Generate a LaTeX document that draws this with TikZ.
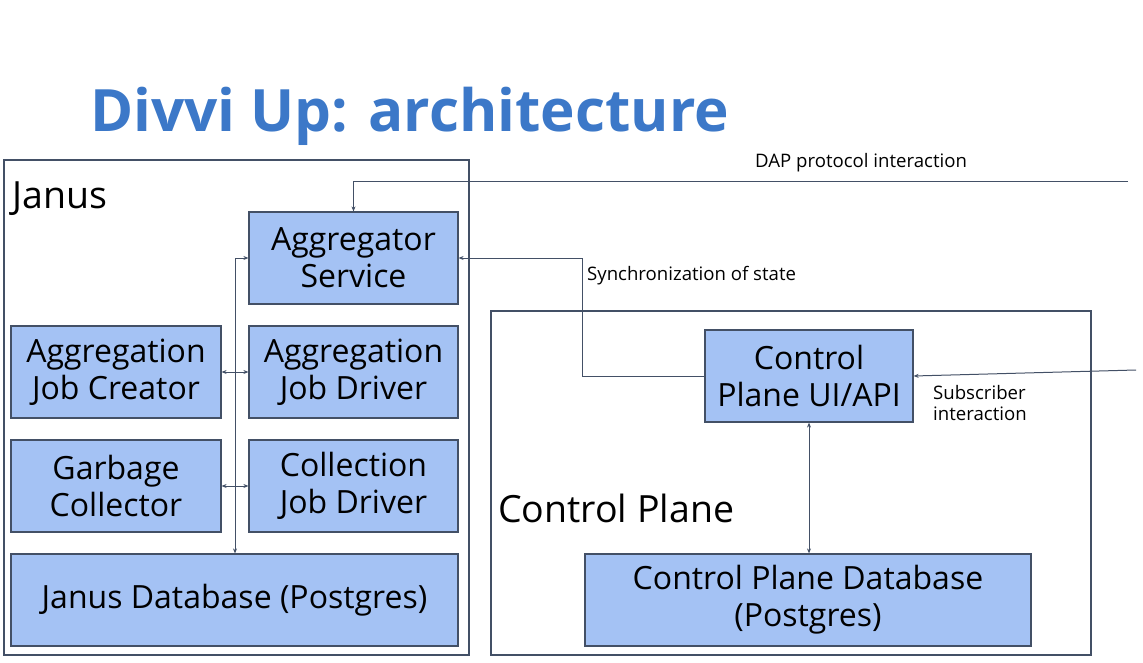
\documentclass[tikz,border=0pt]{standalone}
\usepackage{fontspec}
\setmainfont{Open Sans}
\usetikzlibrary{arrows.meta}

\definecolor{boxfill}{RGB}{164,194,244}
\definecolor{edge}{RGB}{67,80,102}
\definecolor{titleblue}{RGB}{60,120,200}

\begin{document}
\begin{tikzpicture}[x=1pt,y=-1pt,
	comp/.style={draw=edge,line width=1.2pt,fill=boxfill,align=center,inner sep=0pt,
		minimum height=92pt,font=\fontsize{32}{37}\selectfont},
	group/.style={draw=edge,line width=1.2pt,inner sep=0pt},
	lbl/.style={anchor=base west,inner sep=0pt,font=\fontsize{18.6}{21}\selectfont},
	conn/.style={draw=edge,line width=1pt,-{Stealth[length=5pt,width=4pt]}},
	bothconn/.style={draw=edge,line width=1pt,{Stealth[length=5pt,width=4pt]}-{Stealth[length=5pt,width=4pt]}}]
	\useasboundingbox (0,0) rectangle (1143,663);

	% Title
	\node[anchor=base west,inner sep=0pt,text=titleblue,font=\fontsize{58.4}{66}\selectfont\bfseries] (title) at (90,132) {Divvi Up: architecture};

	% Groups
	\node[group,minimum width=465pt,minimum height=495pt] (janus) at (236.5,407.5) {};
	\node[group,minimum width=600pt,minimum height=344pt] (cp) at (791,483) {};
	\node[anchor=base west,inner sep=0pt,font=\fontsize{37.5}{40}\selectfont] (januslbl) at (12,208) {Janus};
	\node[anchor=base west,inner sep=0pt,font=\fontsize{37.5}{40}\selectfont] (cplbl) at (498,522) {Control Plane};

	% Nodes
	\node[comp,minimum width=209pt] (Agg) at (353.5,258) {Aggregator\\Service};
	\node[comp,minimum width=210pt] (AJC) at (116,372) {Aggregation\\Job Creator};
	\node[comp,minimum width=209pt] (AJD) at (353.5,372) {Aggregation\\Job Driver};
	\node[comp,minimum width=210pt] (GC) at (116,486) {Garbage\\Collector};
	\node[comp,minimum width=209pt] (CJD) at (353.5,486) {Collection\\Job Driver};
	\node[comp,minimum width=447pt] (JDB) at (234.5,600) {Janus Database (Postgres)};
	\node[comp,minimum width=208pt] (CPUI) at (809,376) {Control\\Plane UI/API};
	\node[comp,minimum width=446pt] (CPDB) at (808,600) {Control Plane Database\\(Postgres)};

	% Free ends
	\coordinate (bus) at (235,258);
	\coordinate (dapin) at (1128,182);
	\coordinate (syncbend) at (582,376);
	\coordinate (subin) at (1136,370);

	% Labels
	\node[lbl] (daplbl) at (755,168) {DAP protocol interaction};
	\node[lbl] (synclbl) at (587,280) {Synchronization of state};
	\node[lbl,align=left,anchor=north west] (sublbl) at (933,385) {Subscriber\\interaction};

	% Arrows
	\draw[bothconn] (Agg.west) -- (bus) -- (bus |- JDB.north);
	\draw[bothconn] (AJC.east) -- (AJD.west);
	\draw[bothconn] (GC.east) -- (CJD.west);
	\draw[conn] (dapin) -| (Agg.north);
	\draw[conn] (CPUI.west) -- (syncbend) |- (Agg.east);
	\draw[conn] (subin) -- (CPUI.east);
	\draw[bothconn] (CPUI.south) -- (CPUI.south |- CPDB.north);
\end{tikzpicture}
\end{document}
